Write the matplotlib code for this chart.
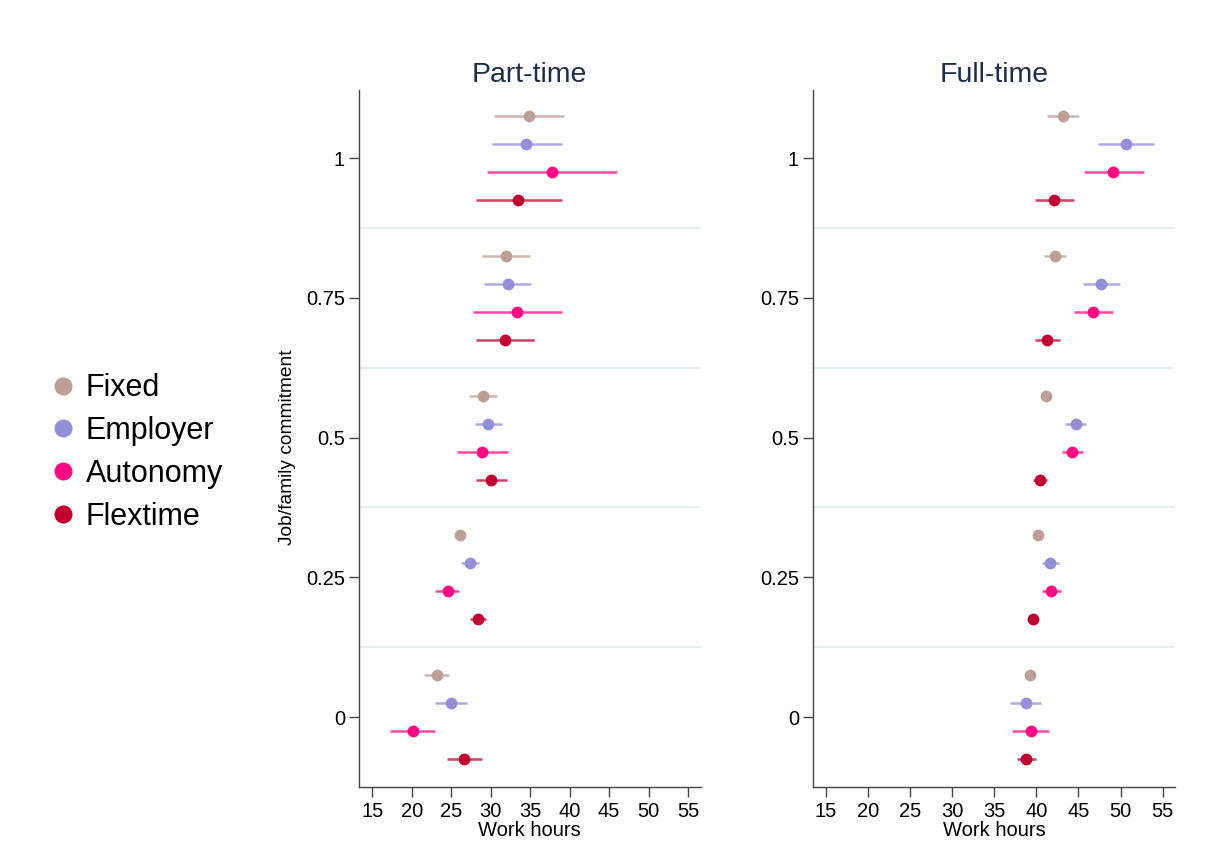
import matplotlib
matplotlib.use("Agg")
import matplotlib.pyplot as plt
from matplotlib.lines import Line2D
import numpy as np

plt.rcParams['font.family'] = ['Liberation Sans', 'DejaVu Sans']

levels = [0, 0.25, 0.5, 0.75, 1]
series = ["Fixed", "Employer", "Autonomy", "Flextime"]
colors = ["#bca098", "#948fd6", "#ff0a82", "#c00030"]
offsets = [0.075, 0.025, -0.025, -0.075]

# Part-time: estimates and CI bounds for levels 0, .25, .5, .75, 1
pt_fixed = [23.17, 26.1, 29.02, 31.94, 34.86]
pt_fixed_lo = [21.6, 25.5, 27.32, 28.89, 30.45]
pt_fixed_hi = [24.78, 26.7, 30.8, 35.03, 39.34]
pt_employer = [25.0, 27.37, 29.73, 32.15, 34.52]
pt_employer_lo = [22.96, 26.26, 28.08, 29.18, 30.16]
pt_employer_hi = [27.06, 28.5, 31.43, 35.15, 39.0]
pt_autonomy = [20.13, 24.61, 28.93, 33.33, 37.82]
pt_autonomy_lo = [17.25, 23.0, 25.79, 27.75, 29.6]
pt_autonomy_hi = [23.0, 26.05, 32.14, 39.0, 46.03]
pt_flextime = [26.68, 28.42, 30.07, 31.81, 33.46]
pt_flextime_lo = [24.49, 27.45, 28.13, 28.17, 28.13]
pt_flextime_hi = [28.93, 29.44, 32.1, 35.49, 39.0]

# Full-time
ft_fixed = [39.3, 40.25, 41.2, 42.19, 43.18]
ft_fixed_lo = [38.8, 39.8, 40.8, 40.92, 41.28]
ft_fixed_hi = [39.8, 40.7, 41.6, 43.5, 45.04]
ft_employer = [38.75, 41.67, 44.65, 47.66, 50.59]
ft_employer_lo = [36.84, 40.65, 43.46, 45.48, 47.26]
ft_employer_hi = [40.56, 42.7, 45.88, 49.88, 53.96]
ft_autonomy = [39.34, 41.79, 44.25, 46.71, 49.13]
ft_autonomy_lo = [37.08, 40.65, 43.03, 44.45, 45.6]
ft_autonomy_hi = [41.55, 42.94, 45.48, 49.05, 52.77]
ft_flextime = [38.82, 39.65, 40.45, 41.32, 42.15]
ft_flextime_lo = [37.75, 39.25, 39.65, 39.85, 39.89]
ft_flextime_hi = [39.94, 40.05, 41.32, 42.82, 44.49]

panels = [
    ("Part-time",
     [pt_fixed, pt_employer, pt_autonomy, pt_flextime],
     [pt_fixed_lo, pt_employer_lo, pt_autonomy_lo, pt_flextime_lo],
     [pt_fixed_hi, pt_employer_hi, pt_autonomy_hi, pt_flextime_hi]),
    ("Full-time",
     [ft_fixed, ft_employer, ft_autonomy, ft_flextime],
     [ft_fixed_lo, ft_employer_lo, ft_autonomy_lo, ft_flextime_lo],
     [ft_fixed_hi, ft_employer_hi, ft_autonomy_hi, ft_flextime_hi]),
]

xticks = [15, 20, 25, 30, 35, 40, 45, 50, 55]
yticks = [0, 0.25, 0.5, 0.75, 1]
yticklabels = ["0", "0.25", "0.5", "0.75", "1"]
separators = [0.125, 0.375, 0.625, 0.875]

fig = plt.figure(figsize=(12.08, 8.67), dpi=100)
axes_rects = [[0.297, 0.0923, 0.283, 0.804], [0.673, 0.0923, 0.300, 0.804]]
xlims = [(13.3, 56.6), (13.5, 56.5)]
title_color = "#1e2d4a"

for i, (title, ests, los, his) in enumerate(panels):
    ax = fig.add_axes(axes_rects[i])
    for s in separators:
        ax.axhline(s, color="#e4eeee", lw=1.3, zorder=0)
    for k in range(4):
        y = np.array(levels) + offsets[k]
        est = np.array(ests[k])
        lo = np.array(los[k])
        hi = np.array(his[k])
        ax.hlines(y, lo, hi, color=colors[k], lw=1.8, alpha=0.75, zorder=2)
        ax.plot(est, y, 'o', color=colors[k], ms=8.5, mec='none', zorder=3)
    ax.set_xlim(*xlims[i])
    ax.set_ylim(-0.125, 1.122)
    ax.set_xticks(xticks)
    ax.set_yticks(yticks)
    ax.set_yticklabels(yticklabels)
    ax.tick_params(axis='both', labelsize=14.5, length=7, width=1, color="#444444", pad=3)
    ax.tick_params(axis='x', pad=4)
    for sp in ['top', 'right']:
        ax.spines[sp].set_visible(False)
    for sp in ['left', 'bottom']:
        ax.spines[sp].set_color("#444444")
        ax.spines[sp].set_linewidth(1)
    ax.set_xlabel("Work hours", fontsize=14.5, labelpad=0)
    ax.set_title(title, fontsize=20.5, color=title_color, pad=6)
    if i == 0:
        ax.set_ylabel("Job/family commitment", fontsize=13.8)
        ax.yaxis.set_label_coords(-0.185, 0.488)

handles = [Line2D([], [], marker='o', ls='none', color=c, ms=13, mec='none') for c in colors]
fig.legend(handles, series, loc='center left', bbox_to_anchor=(0.028, 0.478),
           frameon=False, fontsize=22, handletextpad=0.2, labelspacing=0.42,
           handlelength=1.1, borderaxespad=0)

fig.savefig("out.png", dpi=100, facecolor="white")
